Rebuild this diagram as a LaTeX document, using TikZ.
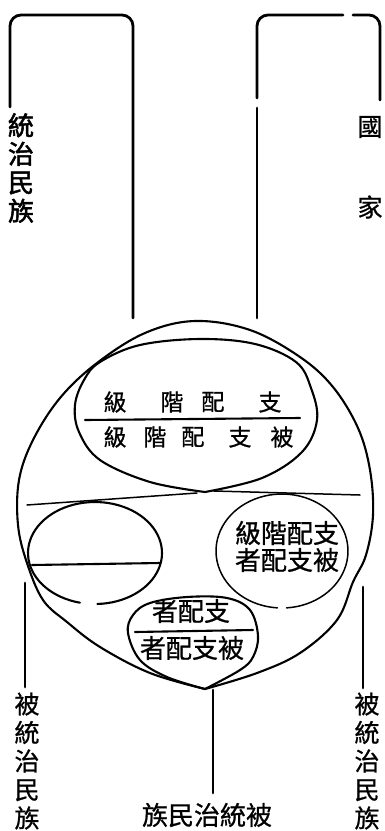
\documentclass[tikz,border=0pt]{standalone}
\usepackage{fontspec}
\newfontfamily\cjk[FakeBold=0.8]{Noto Sans CJK TC}
\newfontfamily\cjkb[FakeBold=2]{Noto Sans CJK TC}
\begin{document}
\begin{tikzpicture}[x=1pt,y=-1pt,
  frame/.style={line width=2.8pt, rounded corners=11pt, line cap=round},
  shp/.style={line width=2.1pt, line cap=round, line join=round},
  thin/.style={line width=1.5pt, line cap=round},
  vlab/.style={inner sep=0pt, align=center, font=\cjk\fontsize{25}{28.5}\selectfont},
  vlabb/.style={inner sep=0pt, align=center, font=\cjkb\fontsize{26}{28.5}\selectfont},
  ch/.style={inner sep=0pt, font=\cjk\fontsize{23}{26}\selectfont},
  txt/.style={inner sep=0pt, font=\cjk\fontsize{26}{28}\selectfont}]
\useasboundingbox (0,0) rectangle (385,831);
% frames
\draw[frame] (10,107) -- (10,15) -- (133,15) -- (133,318);
\draw[frame] (257,318) -- (257,108);
\draw[frame] (257,98) -- (257,15) -- (343,15);
\draw[frame] (353,15) -- (380,15) -- (380,100);
% outer egg
\draw[shp] plot[smooth, tension=0.6] coordinates {(205,689) (150,673) (100,647) (67,622) (43,600) (27,563) (18,525) (19,480) (33,440) (60,398) (97,363) (145,333) (195,321) (250,330) (300,357) (333,387) (358,428) (370,470) (373,515) (366,555) (353,582) (337,620) (300,653) (257,673) (205,689)};
% top inner oval
\draw[shp] plot[smooth, tension=0.6] coordinates {(205,492) (150,482) (100,460) (79,432) (75,405) (84,380) (100,362) (140,345) (200,339) (255,344) (296,362) (311,388) (317,420) (302,452) (262,478) (205,492)};
% separator
\draw[thin] (27,505) -- (197,493);
\draw[thin] (214,491) -- (360,495);
% left circle
\draw[shp] plot[domain=103:448, samples=80] ({95+67*cos(\x)},{553+51*sin(\x)});
\draw[shp] (32,565) -- (160,563);
% right circle
\draw[thin] plot[domain=94:446, samples=80] ({282+66*cos(\x)},{551+57*sin(\x)});
% bottom oval
\draw[shp] plot[smooth, tension=0.6] coordinates {(205,689) (167,677) (140,660) (128,633) (133,615) (150,603) (187,597) (227,598) (250,610) (258,636) (253,657) (240,670) (205,689)};
\draw[shp] (135,632) -- (253,630);
% top oval dividing line
\draw[shp] (85,420) -- (300,418);
% text
\node[vlabb] (tl) at (21,168) {統\\治\\民\\族};
\node[vlab] (guo) at (370,127) {國};
\node[vlab] (jia) at (370,207) {家};
\node[ch] (a1) at (115,402) {級};
\node[ch] (a2) at (172,402) {階};
\node[ch] (a3) at (213,402) {配};
\node[ch] (a4) at (270,402) {支};
\node[ch] (b1) at (115,437) {級};
\node[ch] (b2) at (155,437) {階};
\node[ch] (b3) at (193,437) {配};
\node[ch] (b4) at (240,437) {支};
\node[ch] (b5) at (282,437) {被};
\node[txt] (rc1) at (287,533) {級階配支};
\node[txt] (rc2) at (287,560) {者配支被};
\node[txt] (bo1) at (191,611) {者配支};
\node[txt] (bo2) at (192,648) {者配支被};
\node[vlab] (bl) at (27,761) {被\\統\\治\\民\\族};
\node[vlab] (br) at (367,761) {被\\統\\治\\民\\族};
\node[txt] (bc) at (207,815) {族民治統被};
% connectors
\coordinate (l1) at (25,583); \coordinate (l2) at (25,687);
\coordinate (r1) at (363,587); \coordinate (r2) at (363,688);
\coordinate (c1) at (213,690); \coordinate (c2) at (213,793);
\draw[frame] (l1) -- (l2);
\draw[frame] (r1) -- (r2);
\draw[frame] (c1) -- (c2);
\end{tikzpicture}
\end{document}
